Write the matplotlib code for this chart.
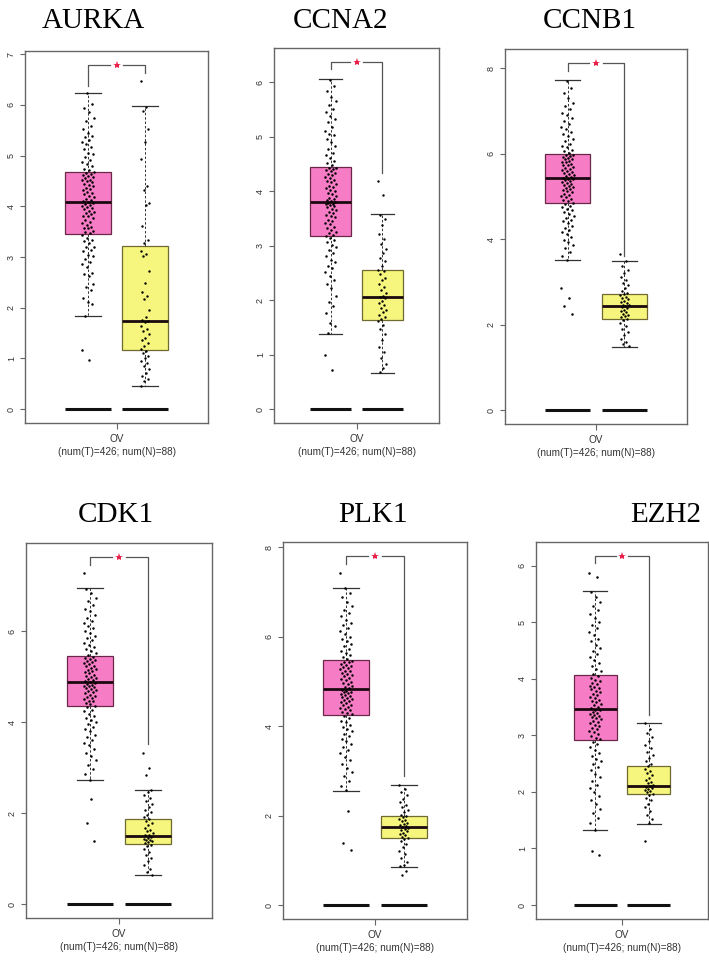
import numpy as np
import matplotlib
matplotlib.use("Agg")
import matplotlib.pyplot as plt

plt.rcParams["font.family"] = ["Liberation Sans", "DejaVu Sans"]

genes = ["AURKA", "CCNA2", "CCNB1", "CDK1", "PLK1", "EZH2"]
group_label = "OV\n(num(T)=426; num(N)=88)"

# box stats: low whisker, q1, median, q3, high whisker
tumor_box = [
    [1.83, 3.46, 4.09, 4.67, 6.24],
    [1.38, 3.18, 3.80, 4.44, 6.05],
    [3.51, 4.84, 5.44, 5.99, 7.73],
    [2.73, 4.35, 4.89, 5.45, 6.95],
    [2.55, 4.24, 4.82, 5.47, 7.09],
    [1.32, 2.91, 3.46, 4.06, 5.55],
]
normal_box = [
    [0.45, 1.16, 1.73, 3.21, 5.97],
    [0.67, 1.63, 2.05, 2.55, 3.58],
    [1.48, 2.13, 2.44, 2.73, 3.50],
    [0.63, 1.32, 1.49, 1.88, 2.52],
    [0.86, 1.49, 1.74, 1.98, 2.69],
    [1.44, 1.96, 2.11, 2.46, 3.22],
]

# significance bracket: top level, left end, right end
bracket_top = [6.79, 6.37, 8.13, 7.64, 7.80, 6.17]
bracket_left = [6.37, 6.24, 7.94, 7.47, 7.62, 6.04]
bracket_right = [6.62, 4.33, 3.60, 3.52, 2.88, 3.36]

y_ticks = [
    [0, 1, 2, 3, 4, 5, 6, 7],
    [0, 1, 2, 3, 4, 5, 6],
    [0, 2, 4, 6, 8],
    [0, 2, 4, 6],
    [0, 2, 4, 6, 8],
    [0, 1, 2, 3, 4, 5, 6],
]
baseline = 0.0

# sample points (estimated from the jitter clouds)
aurka_tumor = [1.17, 0.98,
    1.84, 2.07, 2.11, 2.19, 2.36, 2.41, 2.47, 2.62, 2.66, 2.69, 2.81, 2.86, 2.9, 2.97, 3.02, 3.05, 3.11, 3.14, 3.19, 3.2, 3.27, 3.31, 3.33, 3.38, 3.43,
    3.47, 3.49, 3.52, 3.57, 3.58, 3.6, 3.64, 3.68, 3.7, 3.73, 3.76, 3.8, 3.81, 3.84, 3.86, 3.89, 3.91, 3.94, 3.96, 3.99, 4.01, 4.03, 4.05, 4.07, 4.08,
    4.1, 4.12, 4.15, 4.19, 4.2, 4.24, 4.27, 4.29, 4.32, 4.35, 4.37, 4.4, 4.42, 4.44, 4.47, 4.49, 4.51, 4.52, 4.56, 4.58, 4.6, 4.62, 4.64, 4.65, 4.67,
    4.71, 4.73, 4.79, 4.84, 4.88, 4.91, 4.98, 5.03, 5.06, 5.13, 5.17, 5.22, 5.26, 5.31, 5.36, 5.38, 5.44, 5.52, 5.58, 5.69, 5.74, 5.86, 5.93, 6.01, 6.23]
aurka_normal = [6.48, 5.96, 5.88, 5.52, 5.26, 4.93, 4.41, 4.33, 4.06, 4.02, 3.62, 3.34, 3.28, 3.12, 3.06, 3.03,
    2.72, 2.49, 2.31, 2.24, 2.17, 1.95, 1.81, 1.76, 1.74, 1.72, 1.64, 1.58, 1.55, 1.48, 1.41, 1.36, 1.3, 1.24,
    1.19, 1.14, 1.1, 1.05, 1.01, 0.96, 0.92, 0.86, 0.8, 0.72, 0.66, 0.6, 0.55, 0.46]

ccna2_tumor = [1.0, 0.72,
    1.39, 1.52, 1.58, 1.77, 1.9, 1.96, 2.08, 2.22, 2.29, 2.37, 2.45, 2.51, 2.58, 2.63, 2.7, 2.74, 2.81, 2.86, 2.92, 2.97, 3.01, 3.06, 3.1, 3.13, 3.17,
    3.2, 3.23, 3.25, 3.29, 3.33, 3.35, 3.39, 3.42, 3.45, 3.47, 3.52, 3.54, 3.57, 3.6, 3.62, 3.65, 3.68, 3.7, 3.72, 3.74, 3.76, 3.77, 3.79, 3.8, 3.81,
    3.83, 3.86, 3.88, 3.91, 3.94, 3.97, 4.0, 4.02, 4.05, 4.08, 4.1, 4.13, 4.16, 4.18, 4.21, 4.24, 4.26, 4.29, 4.31, 4.34, 4.36, 4.38, 4.41, 4.42, 4.43,
    4.47, 4.51, 4.55, 4.6, 4.66, 4.7, 4.77, 4.83, 4.9, 4.96, 5.02, 5.05, 5.11, 5.18, 5.26, 5.33, 5.38, 5.45, 5.51, 5.57, 5.66, 5.72, 5.84, 5.93, 6.04]
ccna2_normal = [4.18, 3.92, 3.57, 3.48, 3.37, 3.21, 3.12, 3.03, 2.94, 2.86, 2.77, 2.71, 2.62, 2.56, 2.53, 2.47,
    2.41, 2.36, 2.3, 2.24, 2.19, 2.13, 2.08, 2.06, 2.03, 1.99, 1.95, 1.91, 1.86, 1.82, 1.78, 1.73, 1.69, 1.65,
    1.62, 1.55, 1.47, 1.38, 1.26, 1.14, 1.05, 0.94, 0.83, 0.76, 0.68]

ccnb1_tumor = [2.85, 2.62, 2.44, 2.26,
    3.52, 3.6, 3.71, 3.79, 3.86, 3.94, 3.99, 4.05, 4.12, 4.16, 4.22, 4.27, 4.31, 4.37, 4.42, 4.46, 4.5, 4.55, 4.59, 4.63, 4.68, 4.71, 4.75, 4.79, 4.83,
    4.86, 4.89, 4.92, 4.95, 4.98, 5.01, 5.04, 5.07, 5.1, 5.12, 5.15, 5.17, 5.2, 5.23, 5.25, 5.27, 5.3, 5.32, 5.34, 5.36, 5.38, 5.4, 5.41, 5.43,
    5.46, 5.48, 5.51, 5.53, 5.55, 5.58, 5.6, 5.63, 5.65, 5.68, 5.7, 5.73, 5.75, 5.77, 5.8, 5.82, 5.84, 5.87, 5.89, 5.91, 5.93, 5.95, 5.97, 5.98,
    6.02, 6.06, 6.1, 6.15, 6.19, 6.24, 6.3, 6.35, 6.41, 6.46, 6.52, 6.58, 6.64, 6.7, 6.76, 6.83, 6.9, 6.96, 7.04, 7.12, 7.2, 7.31, 7.42, 7.55, 7.71]
ccnb1_normal = [3.65, 3.49, 3.38, 3.29, 3.2, 3.12, 3.05, 2.98, 2.92, 2.86, 2.8, 2.75, 2.72, 2.69, 2.65, 2.62,
    2.59, 2.56, 2.53, 2.5, 2.47, 2.45, 2.43, 2.41, 2.38, 2.35, 2.32, 2.29, 2.26, 2.23, 2.2, 2.17, 2.14,
    2.1, 2.05, 1.98, 1.91, 1.83, 1.76, 1.67, 1.6, 1.55, 1.49]

cdk1_tumor = [7.28, 2.32, 1.79, 1.38,
    2.74, 2.86, 2.97, 3.06, 3.17, 3.26, 3.33, 3.42, 3.49, 3.55, 3.61, 3.68, 3.73, 3.8, 3.85, 3.9, 3.96, 4.01, 4.06, 4.1, 4.15, 4.19, 4.24, 4.28, 4.33,
    4.37, 4.4, 4.43, 4.46, 4.48, 4.51, 4.54, 4.56, 4.59, 4.61, 4.64, 4.66, 4.68, 4.71, 4.73, 4.75, 4.77, 4.79, 4.81, 4.83, 4.85, 4.86, 4.88,
    4.91, 4.93, 4.96, 4.98, 5.0, 5.03, 5.05, 5.08, 5.1, 5.13, 5.15, 5.18, 5.2, 5.23, 5.25, 5.28, 5.3, 5.33, 5.35, 5.37, 5.39, 5.41, 5.44,
    5.48, 5.52, 5.56, 5.61, 5.66, 5.7, 5.75, 5.81, 5.86, 5.91, 5.97, 6.02, 6.07, 6.13, 6.19, 6.24, 6.3, 6.37, 6.44, 6.5, 6.58, 6.66, 6.74, 6.85, 6.94]
cdk1_normal = [3.33, 3.0, 2.83, 2.51, 2.46, 2.4, 2.33, 2.27, 2.2, 2.14, 2.08, 2.03, 1.97, 1.92, 1.87, 1.83,
    1.78, 1.73, 1.68, 1.64, 1.6, 1.56, 1.53, 1.51, 1.48, 1.46, 1.44, 1.42, 1.4, 1.38, 1.36, 1.34, 1.31,
    1.27, 1.21, 1.15, 1.08, 1.01, 0.94, 0.86, 0.78, 0.7, 0.64]

plk1_tumor = [7.42, 2.1, 1.39, 1.22,
    2.56, 2.66, 2.78, 2.88, 2.97, 3.07, 3.16, 3.25, 3.31, 3.39, 3.46, 3.53, 3.6, 3.66, 3.72, 3.78, 3.83, 3.88, 3.93, 3.98, 4.03, 4.08, 4.12, 4.17, 4.22,
    4.26, 4.29, 4.32, 4.35, 4.38, 4.41, 4.43, 4.46, 4.48, 4.51, 4.53, 4.56, 4.58, 4.6, 4.63, 4.65, 4.67, 4.69, 4.71, 4.73, 4.75, 4.77, 4.78, 4.8,
    4.84, 4.87, 4.9, 4.93, 4.96, 4.99, 5.02, 5.05, 5.08, 5.11, 5.13, 5.16, 5.19, 5.22, 5.24, 5.27, 5.3, 5.32, 5.35, 5.37, 5.39, 5.42, 5.44, 5.46,
    5.5, 5.54, 5.58, 5.63, 5.68, 5.73, 5.78, 5.84, 5.89, 5.95, 6.0, 6.06, 6.12, 6.18, 6.25, 6.31, 6.38, 6.45, 6.53, 6.6, 6.69, 6.78, 6.88, 6.98, 7.08]
plk1_normal = [2.68, 2.6, 2.53, 2.45, 2.37, 2.3, 2.24, 2.18, 2.12, 2.07, 2.02, 1.99, 1.96, 1.93, 1.9, 1.87,
    1.84, 1.81, 1.78, 1.76, 1.74, 1.72, 1.7, 1.68, 1.65, 1.62, 1.59, 1.56, 1.53, 1.5, 1.47, 1.42, 1.36,
    1.29, 1.21, 1.13, 1.05, 0.97, 0.9, 0.87, 0.77, 0.68]

ezh2_tumor = [5.87, 5.8, 0.95, 0.89,
    1.33, 1.45, 1.53, 1.62, 1.7, 1.79, 1.86, 1.93, 2.0, 2.07, 2.13, 2.2, 2.26, 2.32, 2.38, 2.44, 2.49, 2.54, 2.59, 2.64, 2.69, 2.74, 2.79, 2.84, 2.89,
    2.93, 2.96, 2.99, 3.02, 3.05, 3.08, 3.11, 3.13, 3.16, 3.18, 3.21, 3.23, 3.26, 3.28, 3.3, 3.32, 3.34, 3.36, 3.38, 3.4, 3.42, 3.44, 3.45,
    3.48, 3.5, 3.53, 3.55, 3.58, 3.61, 3.63, 3.66, 3.68, 3.71, 3.73, 3.76, 3.78, 3.81, 3.83, 3.86, 3.88, 3.91, 3.93, 3.96, 3.98, 4.01, 4.04,
    4.09, 4.13, 4.18, 4.23, 4.28, 4.33, 4.38, 4.43, 4.49, 4.54, 4.6, 4.66, 4.71, 4.77, 4.83, 4.89, 4.95, 5.01, 5.08, 5.14, 5.21, 5.28, 5.36, 5.45, 5.54]
ezh2_normal = [3.21, 3.12, 3.04, 2.97, 2.9, 2.83, 2.77, 2.71, 2.65, 2.6, 2.55, 2.5, 2.45, 2.41, 2.37, 2.33,
    2.29, 2.25, 2.21, 2.18, 2.15, 2.13, 2.11, 2.09, 2.07, 2.05, 2.03, 2.01, 1.99, 1.97, 1.94, 1.9, 1.85,
    1.79, 1.73, 1.66, 1.59, 1.52, 1.45, 1.14]

tumor_points = [aurka_tumor, ccna2_tumor, ccnb1_tumor, cdk1_tumor, plk1_tumor, ezh2_tumor]
normal_points = [aurka_normal, ccna2_normal, ccnb1_normal, cdk1_normal, plk1_normal, ezh2_normal]

# layout in pixels of the 709x967 canvas: left, top, right, bottom
W, H = 709, 967
axes_px = [
    (25, 51, 208, 423),
    (274, 48, 439, 423),
    (505, 49, 687, 424),
    (26, 543, 212, 918),
    (283, 542, 467, 919),
    (536, 542, 708, 919),
]
title_px = [(93, 28), (340, 28), (590, 28), (116, 522), (373, 522), (666, 522)]

tumor_color = "#F77CC6"
normal_color = "#F6F57E"


def jitter(n, half):
    # deterministic spread (golden-ratio sequence) for the strip points
    k = np.arange(n)
    return ((k * 0.6180339887) % 1.0 - 0.5) * 2 * half


fig = plt.figure(figsize=(W / 100, H / 100), dpi=100)

for i, gene in enumerate(genes):
    l, t, r, b = axes_px[i]
    ax = fig.add_axes([l / W, 1 - b / H, (r - l) / W, (b - t) / H])

    # baseline bars at zero
    ax.hlines([baseline, baseline], [0.6, 1.6], [1.4, 2.4], color="#111111", lw=2.2, zorder=2)

    stats = []
    for box in (tumor_box[i], normal_box[i]):
        stats.append(dict(whislo=box[0], q1=box[1], med=box[2], q3=box[3], whishi=box[4], fliers=[]))
    bp = ax.bxp(stats, positions=[1, 2], widths=0.8, patch_artist=True, showfliers=False,
                capwidths=0.45,
                medianprops=dict(color="#1a0a10", lw=2.0),
                whiskerprops=dict(color="#333333", lw=0.7, linestyle=(0, (2.5, 2))),
                capprops=dict(color="#333333", lw=0.9))
    bp["boxes"][0].set(facecolor=tumor_color, edgecolor="#6a2848", lw=0.9)
    bp["boxes"][1].set(facecolor=normal_color, edgecolor="#6e6a30", lw=0.9)

    # jittered points
    tp = np.array(tumor_points[i])
    npts = np.array(normal_points[i])
    ax.scatter(1 + jitter(len(tp), 0.11), tp, s=3.2, color="black", lw=0, zorder=3)
    ax.scatter(2 + jitter(len(npts), 0.08), npts, s=3.0, color="black", lw=0, zorder=3)

    # significance bracket
    top = bracket_top[i]
    ax.plot([1, 1, 1.38], [bracket_left[i], top, top], color="#555555", lw=0.9)
    ax.plot([1.62, 2, 2], [top, top, bracket_right[i]], color="#555555", lw=0.9)
    ax.plot(1.5, top, marker="*", color="#E8234A", markersize=6, mew=0)

    ax.set_xlim(-0.1, 3.1)
    ax.set_ylim(-0.04 * top, 1.04 * top)
    ax.set_xticks([1.5])
    ax.set_xticklabels([group_label], fontsize=7.2, color="#333333", linespacing=1.35)
    ax.set_yticks(y_ticks[i])
    ax.set_yticklabels([str(v) for v in y_ticks[i]], rotation=90, va="center", fontsize=6.5, color="#333333")
    ax.tick_params(axis="y", length=3.5, width=0.8, color="#666666", pad=3)
    ax.tick_params(axis="x", length=4, width=0.8, color="#666666", pad=4)
    for sp in ax.spines.values():
        sp.set_color("#666666")
        sp.set_linewidth(1.0)

    tx, ty = title_px[i]
    fig.text(tx / W, 1 - ty / H, gene, ha="center", va="baseline",
             fontsize=21, family="Liberation Serif", color="black")

fig.savefig("out.png", dpi=100)
